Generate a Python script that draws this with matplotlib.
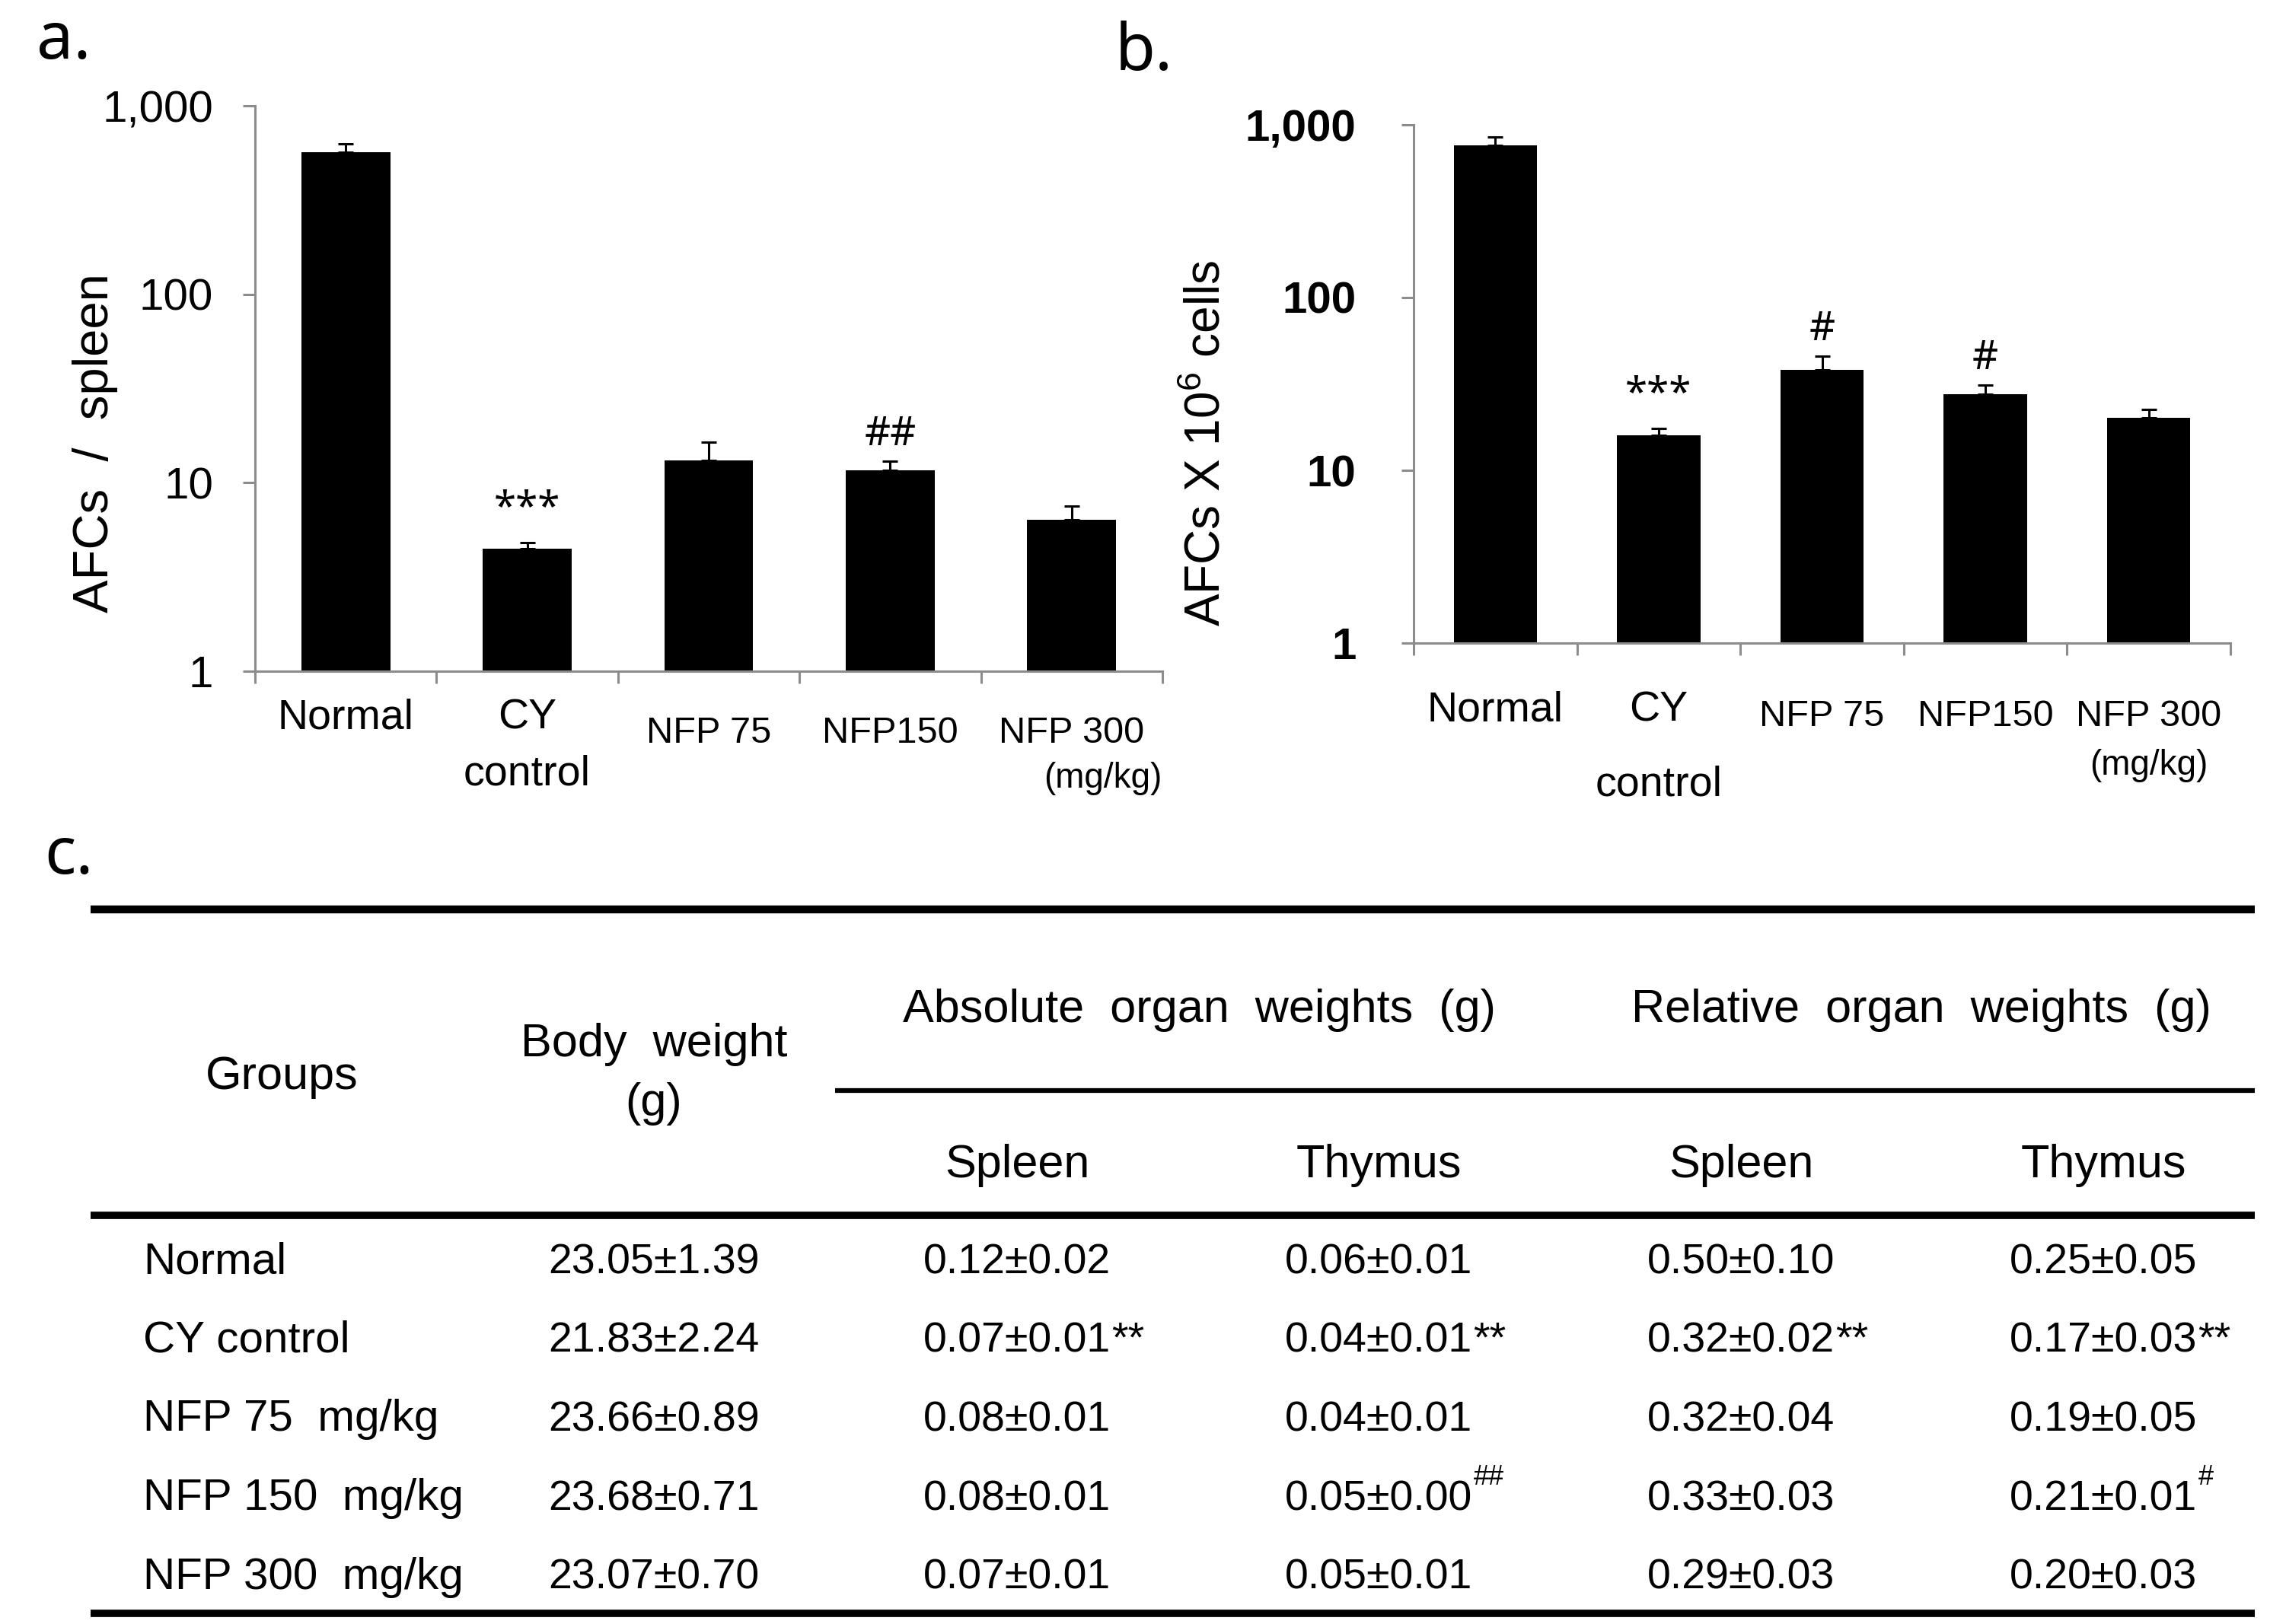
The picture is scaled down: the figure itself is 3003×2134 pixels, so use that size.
import matplotlib
matplotlib.use("Agg")
import matplotlib.pyplot as plt
import numpy as np
from matplotlib.ticker import NullLocator
from matplotlib.transforms import blended_transform_factory

plt.rcParams["font.family"] = ["Liberation Sans", "DejaVu Sans"]
plt.rcParams["mathtext.fontset"] = "custom"
plt.rcParams["mathtext.rm"] = "Liberation Sans"

W, H, DPI = 3003, 2134, 100
PT = DPI / 72.0
GRAY = "#8c8c8c"
NARROW = ["Liberation Sans Narrow", "Liberation Sans", "DejaVu Sans"]

# --- a. AFCs / spleen ---
afc_spleen = [565, 4.45, 13.1, 11.6, 6.34]
afc_spleen_err = [63, 0.36, 3.3, 1.4, 1.17]
afc_spleen_marks = ["", "***", "", "##", ""]

# --- b. AFCs x 10^6 cells ---
afc_cells = [763, 16.0, 38.2, 27.5, 20.1]
afc_cells_err = [86, 1.4, 7.5, 3.6, 2.4]
afc_cells_marks = ["", "***", "#", "#", ""]

ytick_values = [1, 10, 100, 1000]
ytick_labels = ["1", "10", "100", "1,000"]

# --- c. table ---
table_groups = ["Normal", "CY control", "NFP 75  mg/kg", "NFP 150  mg/kg", "NFP 300  mg/kg"]
body_mean = [23.05, 21.83, 23.66, 23.68, 23.07]
body_sd = [1.39, 2.24, 0.89, 0.71, 0.70]
abs_spleen_mean = [0.12, 0.07, 0.08, 0.08, 0.07]
abs_spleen_sd = [0.02, 0.01, 0.01, 0.01, 0.01]
abs_spleen_marks = ["", "**", "", "", ""]
abs_thymus_mean = [0.06, 0.04, 0.04, 0.05, 0.05]
abs_thymus_sd = [0.01, 0.01, 0.01, 0.00, 0.01]
abs_thymus_marks = ["", "**", "", "##", ""]
rel_spleen_mean = [0.50, 0.32, 0.32, 0.33, 0.29]
rel_spleen_sd = [0.10, 0.02, 0.04, 0.03, 0.03]
rel_spleen_marks = ["", "**", "", "", ""]
rel_thymus_mean = [0.25, 0.17, 0.19, 0.21, 0.20]
rel_thymus_sd = [0.05, 0.03, 0.05, 0.01, 0.03]
rel_thymus_marks = ["", "**", "", "#", ""]


def px_rect(left, top, right, bottom):
    return [left / W, 1 - bottom / H, (right - left) / W, (bottom - top) / H]


fig = plt.figure(figsize=(W / DPI, H / DPI), dpi=DPI)
over = fig.add_axes([0, 0, 1, 1])
over.set_xlim(0, W)
over.set_ylim(H, 0)
over.axis("off")


def bar_panel(ax, values, errors, marks, width, tick_font, tick_weight, tick_pad):
    n = len(values)
    x = np.arange(n)
    ax.bar(x, values, width=width, color="black", zorder=2)
    ax.errorbar(x, values, yerr=[np.zeros(n), errors], fmt="none", ecolor="black",
                elinewidth=2.2, capsize=7.5, capthick=2.2, zorder=3)
    ax.set_yscale("log")
    ax.set_ylim(1, 1000)
    ax.set_xlim(-0.5, n - 0.5)
    ax.set_yticks(ytick_values)
    ax.set_yticklabels(ytick_labels, family=tick_font, weight=tick_weight, fontsize=42)
    ax.yaxis.set_minor_locator(NullLocator())
    ax.set_xticks(np.arange(n + 1) - 0.5)
    ax.set_xticklabels([])
    for side in ["top", "right"]:
        ax.spines[side].set_visible(False)
    for side in ["left", "bottom"]:
        ax.spines[side].set_color(GRAY)
        ax.spines[side].set_linewidth(2.2)
    ax.tick_params(axis="both", which="major", direction="out", length=16 / PT,
                   width=2.2, color=GRAY)
    ax.tick_params(axis="y", pad=tick_pad)
    ax.set_facecolor("none")
    for i, mark in enumerate(marks):
        if not mark:
            continue
        off = 13 if mark.startswith("*") else 6
        ax.annotate(mark, xy=(i, values[i] + errors[i]), xytext=(0, off),
                    textcoords="offset points", ha="center", va="bottom",
                    fontsize=38, family=["Noto Sans", "DejaVu Sans"])


ax_a = fig.add_axes(px_rect(335, 139, 1527, 882))
bar_panel(ax_a, afc_spleen, afc_spleen_err, afc_spleen_marks, 0.49, NARROW, "normal", 28)

ax_b = fig.add_axes(px_rect(1857, 164, 2930, 845))
bar_panel(ax_b, afc_cells, afc_cells_err, afc_cells_marks, 0.51,
          ["Liberation Sans", "DejaVu Sans"], "bold", 43)

# category labels: x in category units, y in image pixels
ta = blended_transform_factory(ax_a.transData, over.transData)
tb = blended_transform_factory(ax_b.transData, over.transData)
for tr, ys in [(ta, (957, 1032, 976, 1035)), (tb, (947, 1046, 954, 1018))]:
    y_main, y_ctrl, y_nfp, y_unit = ys
    over.text(0, y_main, "Normal", transform=tr, ha="center", va="baseline", fontsize=40)
    over.text(1, y_main, "CY", transform=tr, ha="center", va="baseline", fontsize=40)
    over.text(1, y_ctrl, "control", transform=tr, ha="center", va="baseline", fontsize=40)
    over.text(2, y_nfp, "NFP 75", transform=tr, ha="center", va="baseline", fontsize=35)
    over.text(3, y_nfp, "NFP150", transform=tr, ha="center", va="baseline", fontsize=35)
    over.text(4, y_nfp, "NFP 300", transform=tr, ha="center", va="baseline", fontsize=35)
over.text(4.5, 1035, "(mg/kg)", transform=ta, ha="right", va="baseline", fontsize=33)
over.text(4, 1018, "(mg/kg)", transform=tb, ha="center", va="baseline", fontsize=33)

# axis titles
over.text(125, 582, "AFCs  /  spleen", rotation=90, ha="center", va="center", fontsize=47)
over.text(1585, 582, r"AFCs X 10$^{\mathrm{6}}$ cells", rotation=90, ha="center",
          va="center", fontsize=46)

# panel letters
for x0, y0, letter in [(48, 77, "a."), (1465, 92, "b."), (58, 1148, "c.")]:
    over.text(x0, y0, letter, ha="left", va="baseline", fontsize=62,
              family=["Noto Sans", "DejaVu Sans"])

# --- table ---
over.hlines(1195, 119, 2962, color="black", lw=7.5)
over.hlines(1433, 1097, 2962, color="black", lw=4.5)
over.hlines(1597, 119, 2962, color="black", lw=7)
over.hlines(2120, 119, 2962, color="black", lw=7)

head_fs = 44
over.text(370, 1431, "Groups", ha="center", va="baseline", fontsize=head_fs)
over.text(859, 1388, "Body  weight", ha="center", va="baseline", fontsize=head_fs)
over.text(859, 1466, "(g)", ha="center", va="baseline", fontsize=head_fs)
over.text(1575, 1343, "Absolute  organ  weights  (g)", ha="center", va="baseline", fontsize=head_fs)
over.text(2524, 1343, "Relative  organ  weights  (g)", ha="center", va="baseline", fontsize=head_fs)
col_x = [859, 1336, 1811, 2287, 2763]
for cx, name in zip(col_x[1:], ["Spleen", "Thymus", "Spleen", "Thymus"]):
    over.text(cx, 1547, name, ha="center", va="baseline", fontsize=head_fs)

columns = [
    (body_mean, body_sd, [""] * 5),
    (abs_spleen_mean, abs_spleen_sd, abs_spleen_marks),
    (abs_thymus_mean, abs_thymus_sd, abs_thymus_marks),
    (rel_spleen_mean, rel_spleen_sd, rel_spleen_marks),
    (rel_thymus_mean, rel_thymus_sd, rel_thymus_marks),
]
row_y = 1673 + 103.7 * np.arange(len(table_groups))
for r, name in enumerate(table_groups):
    over.text(188, row_y[r], name, ha="left", va="baseline", fontsize=42)
    for cx, (means, sds, marks) in zip(col_x, columns):
        t = over.text(cx, row_y[r], f"{means[r]:.2f}±{sds[r]:.2f}", ha="center",
                      va="baseline", fontsize=40, family=NARROW)
        mark = marks[r]
        if mark.startswith("*"):
            over.annotate(mark, xy=(1, 1), xycoords=t, xytext=(1, 1),
                          textcoords="offset points", ha="left", va="top",
                          fontsize=40, family=NARROW)
        elif mark.startswith("#"):
            over.annotate(mark, xy=(1, 1), xycoords=t, xytext=(1, -11),
                          textcoords="offset points", ha="left", va="bottom",
                          fontsize=26, family=NARROW)

fig.savefig("out.png", dpi=DPI)
